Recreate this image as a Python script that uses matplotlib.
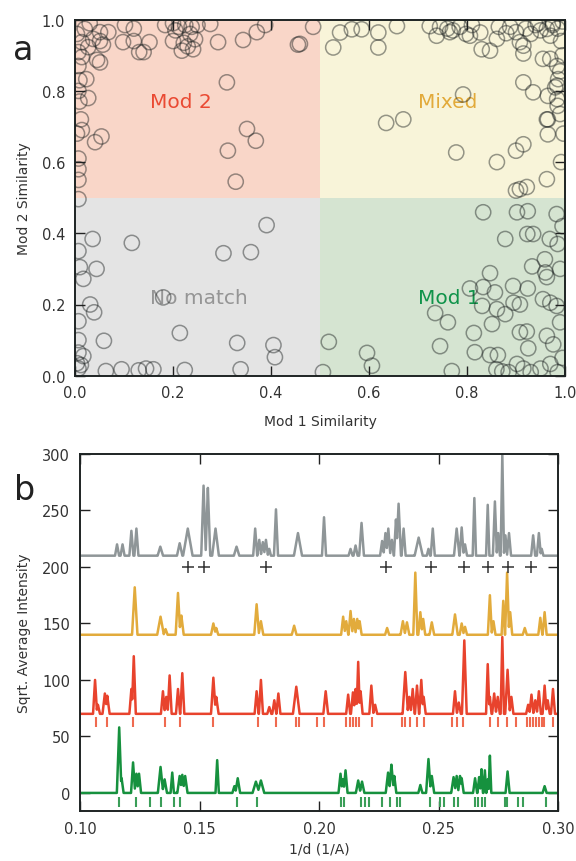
import numpy as np
import matplotlib.pyplot as plt
from matplotlib.patches import Rectangle

# ---- panel a: similarity scatter ----
sim_x = [0.02, 0.051, 0.068, 0.037, 0.014, 0.027, 0.051, 0.057, 0.007, 0.014,
         0.051, 0.045, 0.007, 0.009, 0.023, 0.007, 0.027, 0.009, 0.012, 0.014,
         0.004, 0.041, 0.054, 0.007, 0.007, 0.007, 0.004, 0.03,
         0.102, 0.12, 0.098, 0.12, 0.152, 0.131, 0.14,
         0.184, 0.2, 0.212, 0.225, 0.238, 0.25, 0.276, 0.2, 0.222, 0.218, 0.235,
         0.245, 0.241, 0.23, 0.205, 0.292, 0.343, 0.371, 0.388, 0.31,
         0.351, 0.369, 0.312, 0.328, 0.455, 0.486, 0.459,
         0.541, 0.565, 0.585, 0.527, 0.619, 0.619, 0.657,
         0.724, 0.738, 0.745, 0.76, 0.765, 0.771, 0.785, 0.798, 0.806, 0.81, 0.827,
         0.83, 0.847, 0.861, 0.865, 0.88, 0.888, 0.9, 0.908, 0.915, 0.915, 0.92,
         0.93, 0.94, 0.95, 0.963, 0.97, 0.975, 0.985, 0.955, 0.97, 0.984, 0.99,
         0.986, 0.984, 0.98, 0.915, 0.935, 0.965, 0.985, 0.984, 0.963, 0.99,
         0.965, 0.965, 0.915, 0.9, 0.861, 0.963, 0.908, 0.922, 0.9,
         0.792, 0.635, 0.67, 0.778, 0.995, 0.995, 0.992, 0.975, 0.945,
         0.007, 0.036, 0.007, 0.01, 0.017, 0.044, 0.031, 0.039, 0.007, 0.007,
         0.059, 0.007, 0.017, 0.004, 0.007, 0.012,
         0.116, 0.18, 0.214, 0.063, 0.095, 0.13, 0.145, 0.16, 0.224,
         0.303, 0.359, 0.391, 0.331, 0.338, 0.405, 0.408,
         0.833, 0.902, 0.924, 0.983, 0.878, 0.923, 0.935, 0.969, 0.985,
         0.959, 0.933, 0.96, 0.963, 0.847, 0.806, 0.833, 0.857, 0.894, 0.924,
         0.955, 0.97, 0.983, 0.908, 0.895, 0.861, 0.878, 0.831,
         0.735, 0.761, 0.851, 0.814, 0.908, 0.922, 0.963, 0.976, 0.925, 0.745,
         0.816, 0.847, 0.863, 0.518, 0.596, 0.606, 0.506, 0.769,
         0.86, 0.885, 0.902, 0.915, 0.93, 0.95, 0.97, 0.985, 0.872, 0.995, 0.99,
         0.99, 0.995, 0.992, 0.997]
sim_y = [0.974, 0.965, 0.965, 0.946, 0.937, 0.923, 0.94, 0.93, 0.909, 0.895,
         0.88, 0.887, 0.87, 0.83, 0.833, 0.8, 0.78, 0.77, 0.72, 0.69,
         0.68, 0.656, 0.672, 0.61, 0.58, 0.55, 0.96, 0.99,
         0.985, 0.975, 0.937, 0.94, 0.937, 0.909, 0.909,
         0.985, 0.99, 0.98, 0.985, 0.98, 0.985, 0.988, 0.94, 0.935, 0.913, 0.96,
         0.945, 0.917, 0.925, 0.97, 0.937, 0.943, 0.965, 0.985, 0.824,
         0.693, 0.66, 0.632, 0.545, 0.93, 0.98, 0.932,
         0.964, 0.973, 0.973, 0.922, 0.964, 0.922, 0.982,
         0.982, 0.955, 0.98, 0.975, 0.965, 0.97, 0.98, 0.96, 0.955, 0.985, 0.964,
         0.917, 0.913, 0.946, 0.98, 0.962, 0.98, 0.965, 0.937, 0.927, 0.905, 0.975,
         0.96, 0.985, 0.97, 0.974, 0.955, 0.985, 0.975, 0.89, 0.89, 0.87, 0.855,
         0.833, 0.815, 0.81, 0.824, 0.796, 0.786, 0.758, 0.777, 0.72, 0.735,
         0.72, 0.678, 0.65, 0.632, 0.6, 0.552, 0.524, 0.53, 0.52,
         0.79, 0.71, 0.72, 0.627, 0.995, 0.9, 0.94, 0.99, 0.99,
         0.496, 0.384, 0.35, 0.305, 0.272, 0.3, 0.2, 0.178, 0.153, 0.1,
         0.098, 0.065, 0.055, 0.035, 0.02, 0.03,
         0.373, 0.22, 0.12, 0.013, 0.018, 0.015, 0.02, 0.018, 0.016,
         0.344, 0.347, 0.423, 0.092, 0.018, 0.086, 0.052,
         0.459, 0.459, 0.462, 0.454, 0.384, 0.398, 0.398, 0.384, 0.37,
         0.327, 0.307, 0.29, 0.277, 0.288, 0.245, 0.249, 0.234, 0.252, 0.245,
         0.215, 0.205, 0.196, 0.2, 0.205, 0.187, 0.173, 0.196,
         0.176, 0.15, 0.145, 0.12, 0.122, 0.124, 0.112, 0.088, 0.077, 0.083,
         0.066, 0.058, 0.058, 0.095, 0.064, 0.028, 0.01, 0.013,
         0.018, 0.01, 0.033, 0.02, 0.01, 0.02, 0.033, 0.01, 0.012, 0.05, 0.15,
         0.3, 0.42, 0.6, 0.68]

quad_labels = ['Mod 2', 'Mixed', 'No match', 'Mod 1']

# ---- panel b: diffraction patterns (peak center, height, half width) ----
gray_peaks = [(0.1155, 10, 0.0006), (0.1178, 10, 0.0006), (0.1215, 22, 0.0006),
              (0.1236, 24, 0.0006), (0.1336, 8, 0.0008), (0.1417, 11, 0.0008),
              (0.1451, 24, 0.0014), (0.1517, 62, 0.0007), (0.1535, 60, 0.0007),
              (0.1567, 24, 0.0010), (0.1655, 8, 0.0008), (0.1733, 24, 0.0006),
              (0.1750, 14, 0.0006), (0.1765, 12, 0.0006), (0.1778, 14, 0.0006),
              (0.1792, 6, 0.0005), (0.1820, 41, 0.0006), (0.1912, 20, 0.0012),
              (0.2021, 34, 0.0006), (0.2132, 6, 0.0006), (0.2153, 9, 0.0006),
              (0.2178, 29, 0.0007), (0.2264, 13, 0.0006), (0.2278, 20, 0.0006),
              (0.2290, 24, 0.0006), (0.2305, 14, 0.0006), (0.2322, 32, 0.0006),
              (0.2333, 46, 0.0007), (0.2354, 24, 0.0006), (0.2417, 16, 0.0012),
              (0.2458, 6, 0.0005), (0.2476, 24, 0.0006), (0.2576, 24, 0.0008),
              (0.2597, 25, 0.0006), (0.2611, 10, 0.0006), (0.2650, 51, 0.0005),
              (0.2706, 45, 0.0005), (0.2736, 48, 0.0006), (0.2750, 20, 0.0005),
              (0.2767, 90, 0.0005), (0.2780, 18, 0.0005), (0.2795, 20, 0.0006),
              (0.2896, 18, 0.0006), (0.2920, 20, 0.0006), (0.2932, 6, 0.0005)]
gold_peaks = [(0.1229, 42, 0.0008), (0.1337, 16, 0.0010), (0.1358, 5, 0.0006),
              (0.1410, 37, 0.0007), (0.1424, 17, 0.0007), (0.1558, 10, 0.0007),
              (0.1570, 6, 0.0006), (0.1739, 27, 0.0007), (0.1757, 12, 0.0007),
              (0.1896, 8, 0.0007), (0.2101, 16, 0.0006), (0.2114, 12, 0.0006),
              (0.2132, 21, 0.0006), (0.2146, 14, 0.0006), (0.2160, 14, 0.0006),
              (0.2170, 12, 0.0006), (0.2285, 6, 0.0006), (0.2351, 12, 0.0007),
              (0.2368, 11, 0.0007), (0.2403, 55, 0.0006), (0.2424, 20, 0.0006),
              (0.2436, 14, 0.0006), (0.2472, 11, 0.0007), (0.2569, 18, 0.0008),
              (0.2597, 10, 0.0006), (0.2611, 7, 0.0006), (0.2715, 35, 0.0006),
              (0.2730, 12, 0.0006), (0.2771, 30, 0.0005), (0.2787, 55, 0.0006),
              (0.2800, 20, 0.0006), (0.2861, 6, 0.0006), (0.2926, 15, 0.0006),
              (0.2944, 20, 0.0006)]
red_peaks = [(0.1063, 30, 0.0006), (0.1075, 8, 0.0006), (0.1104, 18, 0.0007),
             (0.1114, 16, 0.0007), (0.1215, 22, 0.0006), (0.1225, 51, 0.0006),
             (0.1347, 20, 0.0006), (0.1361, 15, 0.0006), (0.1375, 34, 0.0006),
             (0.1410, 22, 0.0006), (0.1428, 36, 0.0006), (0.1558, 32, 0.0007),
             (0.1570, 15, 0.0007), (0.1739, 20, 0.0006), (0.1757, 30, 0.0006),
             (0.1792, 6, 0.0006), (0.1813, 12, 0.0006), (0.1830, 18, 0.0006),
             (0.1905, 24, 0.0010), (0.2028, 20, 0.0007), (0.2122, 17, 0.0006),
             (0.2142, 19, 0.0006), (0.2153, 22, 0.0006), (0.2164, 46, 0.0005),
             (0.2174, 20, 0.0006), (0.2219, 25, 0.0006), (0.2235, 8, 0.0006),
             (0.2361, 37, 0.0008), (0.2378, 15, 0.0006), (0.2392, 22, 0.0006),
             (0.2410, 25, 0.0006), (0.2428, 30, 0.0006), (0.2438, 15, 0.0006),
             (0.2569, 20, 0.0006), (0.2585, 10, 0.0006), (0.2608, 65, 0.0007),
             (0.2706, 44, 0.0005), (0.2715, 15, 0.0005), (0.2733, 18, 0.0006),
             (0.2748, 15, 0.0006), (0.2767, 68, 0.0005), (0.2789, 39, 0.0007),
             (0.2805, 15, 0.0006), (0.2875, 8, 0.0006), (0.2889, 17, 0.0006),
             (0.2905, 12, 0.0006), (0.2920, 20, 0.0006), (0.2944, 25, 0.0006),
             (0.2957, 12, 0.0006), (0.2979, 22, 0.0006)]
green_peaks = [(0.1164, 58, 0.0007), (0.1174, 13, 0.0006), (0.1222, 27, 0.0006),
               (0.1236, 17, 0.0006), (0.1247, 17, 0.0006), (0.1337, 23, 0.0008),
               (0.1354, 12, 0.0007), (0.1386, 18, 0.0005), (0.1417, 15, 0.0007),
               (0.1428, 16, 0.0007), (0.1440, 15, 0.0007), (0.1574, 29, 0.0005),
               (0.1646, 6, 0.0006), (0.1660, 13, 0.0007), (0.1736, 10, 0.0010),
               (0.1757, 11, 0.0010), (0.2090, 17, 0.0006), (0.2100, 12, 0.0006),
               (0.2111, 20, 0.0006), (0.2164, 11, 0.0007), (0.2180, 10, 0.0007),
               (0.2289, 18, 0.0007), (0.2303, 25, 0.0007), (0.2315, 15, 0.0006),
               (0.2424, 7, 0.0006), (0.2458, 30, 0.0007), (0.2472, 15, 0.0007),
               (0.2563, 14, 0.0007), (0.2576, 15, 0.0006), (0.2590, 15, 0.0006),
               (0.2597, 13, 0.0006), (0.2653, 13, 0.0006), (0.2670, 14, 0.0005),
               (0.2680, 21, 0.0004), (0.2694, 20, 0.0004), (0.2706, 12, 0.0004),
               (0.2715, 33, 0.0004), (0.2789, 19, 0.0006), (0.2944, 6, 0.0006)]
offsets = {'gray': 210, 'gold': 140, 'red': 70, 'green': 0}

plus_x = [0.145, 0.152, 0.178, 0.228, 0.247, 0.2607, 0.2708, 0.279, 0.2889]
red_ticks = [0.1067, 0.1114, 0.122, 0.1357, 0.1417, 0.1558, 0.1743, 0.182,
             0.1903, 0.1917, 0.1993, 0.2021, 0.2114, 0.2128, 0.2142, 0.2153,
             0.2169, 0.2222, 0.2347, 0.2361, 0.2382, 0.2410, 0.2438, 0.2558,
             0.2576, 0.2604, 0.2715, 0.275, 0.2785, 0.2826, 0.2872, 0.2882,
             0.2896, 0.2910, 0.2920, 0.2931, 0.2942, 0.2979]
green_ticks = [0.1164, 0.1236, 0.1294, 0.134, 0.1392, 0.1417, 0.1655, 0.1739,
               0.209, 0.2104, 0.2174, 0.2194, 0.2208, 0.2264, 0.2299, 0.2326,
               0.234, 0.2465, 0.2507, 0.2521, 0.2563, 0.2583, 0.2653, 0.2667,
               0.268, 0.2694, 0.2778, 0.2785, 0.2833, 0.2854, 0.2951]


def profile(peaks, base, x, wscale=1.4):
    # triangular peaks on a flat baseline, overlapping peaks take the max
    y = np.zeros_like(x)
    for c, h, w in peaks:
        y = np.maximum(y, h * np.clip(1 - np.abs(x - c) / (w * wscale), 0, None))
    return base + y


fig = plt.figure(figsize=(5.76, 8.62), dpi=100)
txt = '#333333'
plt.rcParams['font.family'] = ['DejaVu Sans']

ax = fig.add_axes([75 / 576, 1 - 376.7 / 862, 490 / 576, 356 / 862])
quads = [((0, 0.5), '#f9d6c8'), ((0.5, 0.5), '#f8f4d9'),
         ((0, 0), '#e4e4e4'), ((0.5, 0), '#d5e4d1')]
for (qx, qy), col in quads:
    ax.add_patch(Rectangle((qx, qy), 0.5, 0.5, facecolor=col, edgecolor='none', zorder=0))
ax.text(0.153, 0.77, quad_labels[0], color='#ea4a33', fontsize=14.5, va='center')
ax.text(0.70, 0.77, quad_labels[1], color='#e2aa3a', fontsize=14.5, va='center')
ax.text(0.153, 0.221, quad_labels[2], color='#959595', fontsize=14.5, va='center')
ax.text(0.70, 0.221, quad_labels[3], color='#10934a', fontsize=14.5, va='center')
ax.scatter(sim_x, sim_y, s=120, facecolors='none', edgecolors=(0.1, 0.12, 0.12, 0.45),
           linewidths=1.1, zorder=3, clip_on=True)
ax.set_xlim(0, 1)
ax.set_ylim(0, 1)
ax.set_xlabel('Mod 1 Similarity', color=txt, fontsize=10, labelpad=10)
ax.set_ylabel('Mod 2 Similarity', color=txt, fontsize=10, labelpad=8)
ax.text(-0.105, 0.915, 'a', transform=ax.transAxes, fontsize=24, color='#222222',
        ha='center', va='center')

axb = fig.add_axes([80 / 576, 1 - 812 / 862, 478 / 576, 357 / 862])
x = np.arange(0.1, 0.30001, 0.00005)
colors = {'gray': '#8f9698', 'gold': '#e2ab3c', 'red': '#e8432d', 'green': '#16913e'}
for name, pk in [('gray', gray_peaks), ('gold', gold_peaks),
                 ('red', red_peaks), ('green', green_peaks)]:
    axb.plot(x, profile(pk, offsets[name], x), color=colors[name], lw=1.8)
axb.plot(plus_x, [200] * len(plus_x), '+', color='#333333', ms=8, mew=1.1)
axb.plot(red_ticks, [63] * len(red_ticks), '|', color='#ef6a50', ms=7, mew=1.5)
axb.plot(green_ticks, [-8] * len(green_ticks), '|', color='#3a9e58', ms=7, mew=1.5)
axb.set_xlim(0.1, 0.3)
axb.set_ylim(-16, 300)
axb.set_xticks([0.10, 0.15, 0.20, 0.25, 0.30])
axb.set_xticklabels(['0.10', '0.15', '0.20', '0.25', '0.30'])
axb.set_yticks([0, 50, 100, 150, 200, 250, 300])
axb.set_xlabel('1/d (1/A)', color=txt, fontsize=10, labelpad=4)
axb.set_ylabel('Sqrt. Average Intensity', color=txt, fontsize=10, labelpad=8)
axb.text(-0.115, 0.9, 'b', transform=axb.transAxes, fontsize=24, color='#222222',
         ha='center', va='center')

for a in (ax, axb):
    a.tick_params(direction='in', top=True, right=True, length=7, width=1,
                  colors='#222222', labelcolor=txt, labelsize=10.5, pad=7)
    for sp in a.spines.values():
        sp.set_linewidth(1.4)
        sp.set_color('#1e2424')

fig.savefig('out.png', dpi=100)
